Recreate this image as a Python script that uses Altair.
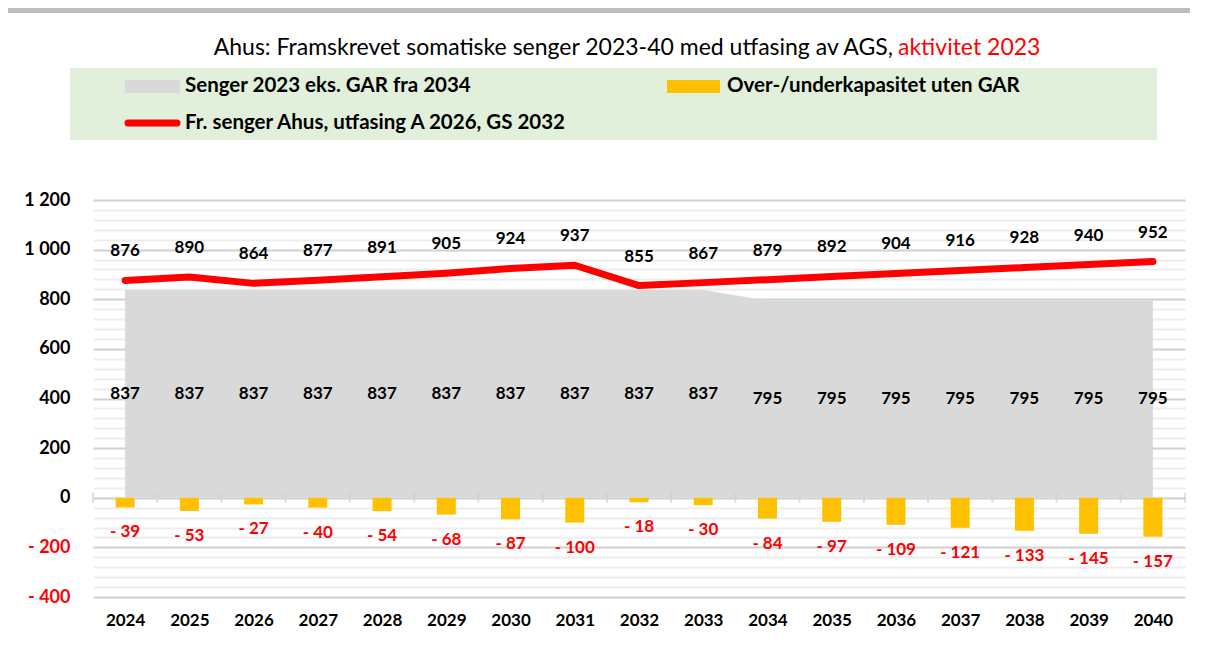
import altair as alt
import pandas as pd

# ---------------- data ----------------
years = list(range(2024, 2041))
line_vals = [876, 890, 864, 877, 891, 905, 924, 937, 855, 867, 879, 892, 904, 916, 928, 940, 952]
area_vals = [837, 837, 837, 837, 837, 837, 837, 837, 837, 837, 795, 795, 795, 795, 795, 795, 795]
bar_vals = [-39, -53, -27, -40, -54, -68, -87, -100, -18, -30, -84, -97, -109, -121, -133, -145, -157]
y_grid_vals = list(range(-400, 1201, 40))

title_black = "Ahus: Framskrevet somatiske senger 2023-40 med utfasing av AGS,"
title_red = "aktivitet 2023"
legend_area = "Senger 2023 eks. GAR fra 2034"
legend_bar = "Over-/underkapasitet uten GAR"
legend_line = "Fr. senger Ahus, utfasing A 2026, GS 2032"

FONT = "Lato"
GRAY = "#D9D9D9"
YELLOW = "#FFC000"
RED = "#FF0000"

df = pd.DataFrame({"year": years, "line": line_vals, "area": area_vals, "bar": bar_vals})
bounds = pd.DataFrame({"b": [y - 0.5 for y in years] + [years[-1] + 0.5], "z": 0})

xscale = alt.Scale(domain=[years[0] - 0.5, years[-1] + 0.5], nice=False, zero=False, padding=0)
yscale = alt.Scale(domain=[-400, 1200], nice=False, padding=0)

label_expr = ("datum.value % 200 !== 0 ? '' : (datum.value < 0 ? '- ' + "
              "replace(format(-datum.value, ','), ',', ' ') : replace(format(datum.value, ','), ',', ' '))")

X_AX = alt.Axis(values=years, format="d", grid=False, domain=False, ticks=False,
                labelFont=FONT, labelFontSize=17, labelFontWeight="bold",
                labelColor="black", labelPadding=15, labelFlush=False, title=None)
Y_AX = alt.Axis(values=y_grid_vals, labelExpr=label_expr, grid=True,
                gridColor={"condition": {"test": "datum.value % 200 === 0", "value": "#D0D0D0"},
                           "value": "#EDEDED"},
                gridWidth=2, domain=False, ticks=False,
                labelFont=FONT, labelFontSize=18, labelFontWeight="bold",
                labelColor={"condition": {"test": "datum.value < 0", "value": RED},
                            "value": "black"},
                labelPadding=23, title=None)


def X(field):
    return alt.X(field, scale=xscale, axis=X_AX, title=None)


def Y(field):
    return alt.Y(field, scale=yscale, axis=Y_AX, title=None)


base = alt.Chart(df)

area = base.mark_area(color=GRAY, opacity=1).encode(x=X("year:Q"), y=Y("area:Q"))

ticks = alt.Chart(bounds).mark_tick(orient="vertical", size=10, thickness=2, color="#D0D0D0").encode(
    x=X("b:Q"), y=Y("z:Q"))

bars = base.mark_bar(color=YELLOW, size=19).encode(x=X("year:Q"), y=Y("bar:Q"))

line = base.mark_line(color=RED, strokeWidth=7, strokeCap="round", strokeJoin="round").encode(
    x=X("year:Q"), y=Y("line:Q"))

line_lbl = base.mark_text(font=FONT, fontSize=17, fontWeight="bold", color="black", dy=-29).encode(
    x=X("year:Q"), y=Y("line:Q"), text=alt.Text("line:Q", format="d"))

area_lbl = base.transform_calculate(mid="datum.area / 2").mark_text(
    font=FONT, fontSize=17, fontWeight="bold", color="black").encode(
    x=X("year:Q"), y=Y("mid:Q"), text=alt.Text("area:Q", format="d"))

bar_lbl = base.transform_calculate(t="'- ' + (-datum.bar)").mark_text(
    font=FONT, fontSize=17, fontWeight="bold", color=RED, dy=25).encode(
    x=X("year:Q"), y=Y("bar:Q"), text="t:N")


def one(txt):
    return alt.Chart(pd.DataFrame({"t": [txt]}))


# title
t_black = one(title_black).mark_text(font=FONT, fontSize=23, color="black", align="right",
                                     baseline="middle").encode(
    text="t:N", x=alt.value(800), y=alt.value(-152))
t_red = one(title_red).mark_text(font=FONT, fontSize=23, color=RED, align="left",
                                 baseline="middle").encode(
    text="t:N", x=alt.value(805), y=alt.value(-152))

# legend
leg_box = one("box").mark_rect(color="#E2EFDA").encode(
    x=alt.value(-23), x2=alt.value(1064), y=alt.value(-132), y2=alt.value(-60))
leg_sw1 = one("a").mark_rect(color=GRAY).encode(
    x=alt.value(32), x2=alt.value(87), y=alt.value(-120), y2=alt.value(-107))
leg_sw2 = one("b").mark_rect(color=YELLOW).encode(
    x=alt.value(574), x2=alt.value(627), y=alt.value(-120), y2=alt.value(-107))
leg_sw3 = one("c").mark_rule(color=RED, strokeWidth=7, strokeCap="round").encode(
    x=alt.value(35), x2=alt.value(84), y=alt.value(-77))
leg_t1 = one(legend_area).mark_text(font=FONT, fontSize=20.5, fontWeight="bold", align="left",
                                    baseline="middle", color="black").encode(
    text="t:N", x=alt.value(92), y=alt.value(-114))
leg_t2 = one(legend_bar).mark_text(font=FONT, fontSize=20.5, fontWeight="bold", align="left",
                                   baseline="middle", color="black").encode(
    text="t:N", x=alt.value(634), y=alt.value(-114))
leg_t3 = one(legend_line).mark_text(font=FONT, fontSize=20.5, fontWeight="bold", align="left",
                                    baseline="middle", color="black").encode(
    text="t:N", x=alt.value(92), y=alt.value(-77))

# card shadow at the top edge
shadow = one("s").mark_rect(color="#BDBDBD").encode(
    x=alt.value(-93), x2=alt.value(1110), y=alt.value(-192), y2=alt.value(-187))

chart = alt.layer(
    area, ticks, bars, line, line_lbl, area_lbl, bar_lbl,
    shadow, t_black, t_red, leg_box, leg_sw1, leg_sw2, leg_sw3, leg_t1, leg_t2, leg_t3,
).properties(
    width=1092, height=397,
    autosize=alt.AutoSizeParams(type="none"),
    padding={"left": 85, "top": 192, "right": 5, "bottom": 35},
    background="white",
).configure_view(stroke=None)

chart.save("out.html", embed_options={"renderer": "svg", "actions": False})
